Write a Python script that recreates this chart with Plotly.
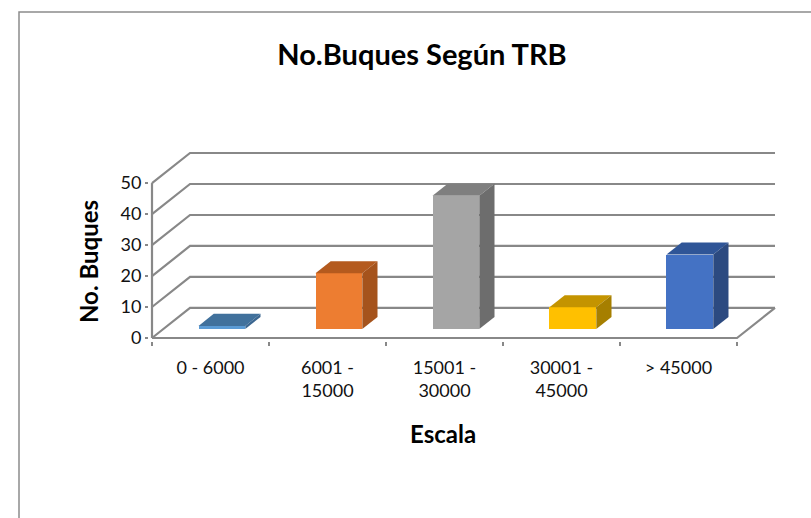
import plotly.graph_objects as go

# ---- data ----
categories = ["0 - 6000", "6001 -<br>15000", "15001 -<br>30000", "30001 -<br>45000", "> 45000"]
values = [1, 18, 43, 7, 24]
y_ticks = [0, 10, 20, 30, 40, 50]

front_colors = ["#5b9bd5", "#ed7d31", "#a5a5a5", "#ffc000", "#4472c4"]
top_colors = ["#41719c", "#b45a1e", "#7f7f7f", "#c49400", "#2f5597"]
side_colors = ["#3b6690", "#a5531c", "#6d6d6d", "#a67f00", "#2c4a80"]

# ---- 3D geometry (in axis units) ----
DX = 0.325   # depth offset along x (category units)
DY = 9.7     # depth offset along y (value units)
F0, F1 = 0.3, 0.7   # bar front / back depth fractions
BW = 0.4     # bar width
GRID = "#888888"
TXT = "#111111"

W, H = 811, 518
n = len(categories)
ymax = y_ticks[-1] + DY
# pixel frame of the front/back planes
PX0, PX1 = 152, 775
PY0, PY1 = 338, 153
ppx = (PX1 - PX0) / (n + DX)
ppy = (PY0 - PY1) / ymax
EX, EY = 3 / ppx, 3 / ppy   # small padding so edge lines are not clipped
L = PX0 - 3
R = W - PX1 - 3
T = PY1 - 3
B = H - PY0 - 3

fig = go.Figure()

shapes = []
# walls / gridlines (drawn below the bars)
for v in y_ticks:
    shapes.append(dict(type="path", xref="x", yref="y", layer="below",
                       path=f"M 0 {v} L {DX} {v + DY} L {n + DX} {v + DY}",
                       line=dict(color=GRID, width=2.2)))
# floor front + right edge, vertical axis
shapes.append(dict(type="path", xref="x", yref="y", layer="below",
                   path=f"M 0 0 L {n} 0 L {n + DX} {DY}", line=dict(color=GRID, width=2.2)))
shapes.append(dict(type="line", xref="x", yref="y", layer="below",
                   x0=0, y0=0, x1=0, y1=y_ticks[-1], line=dict(color=GRID, width=2.2)))

# bars: front faces
centers = [i + 0.5 + F0 * DX for i in range(n)]
yb = F0 * DY
fig.add_trace(go.Bar(x=centers, y=values, base=yb, width=BW,
                     marker=dict(color=front_colors, line=dict(width=0)),
                     showlegend=False, hoverinfo="skip"))

d = (F1 - F0) * DX
dy = (F1 - F0) * DY
for i, v in enumerate(values):
    x0 = centers[i] - BW / 2
    x1 = centers[i] + BW / 2
    yt = yb + v
    # top face
    fig.add_trace(go.Scatter(x=[x0, x1, x1 + d, x0 + d, x0], y=[yt, yt, yt + dy, yt + dy, yt],
                             fill="toself", fillcolor=top_colors[i], mode="lines",
                             line=dict(width=0), hoverinfo="skip", showlegend=False))
    # side face
    fig.add_trace(go.Scatter(x=[x1, x1, x1 + d, x1 + d, x1], y=[yb, yt, yt + dy, yb + dy, yb],
                             fill="toself", fillcolor=side_colors[i], mode="lines",
                             line=dict(width=0), hoverinfo="skip", showlegend=False))

ph = H - T - B
pw = W - L - R


def px_to_paper_x(px):
    return (px - L) / pw


def px_to_paper_y(py):
    return (H - B - py) / ph


# chart border
shapes.append(dict(type="rect", xref="paper", yref="paper",
                   x0=px_to_paper_x(19), x1=px_to_paper_x(830),
                   y0=px_to_paper_y(540), y1=px_to_paper_y(12),
                   line=dict(color="#8c8c8c", width=1.5), fillcolor="rgba(0,0,0,0)", layer="below"))

fig.update_layout(
    width=W, height=H,
    margin=dict(l=L, r=R, t=T, b=B, autoexpand=False),
    paper_bgcolor="white", plot_bgcolor="white",
    font=dict(family="Lato", color=TXT),
    title=dict(text="<b>No.Buques Según TRB</b>", x=px_to_paper_x(422), xref="paper",
               xanchor="center", y=1 - 55 / H, yanchor="middle", automargin=False,
               font=dict(size=29, color="#000000", family="Lato")),
    xaxis=dict(range=[-EX, n + DX + EX], tickmode="array", tickvals=[i + 0.5 for i in range(n)],
               ticktext=categories, ticks="", showgrid=False, zeroline=False, showline=False,
               automargin=False, tickfont=dict(size=18, color=TXT), ticklabelstandoff=14,
               minor=dict(tickmode="array", tickvals=list(range(n + 1)), ticks="outside",
                          ticklen=4, tickwidth=1.5, tickcolor=GRID, showgrid=False)),
    yaxis=dict(range=[-EY, ymax + EY], tickmode="array", tickvals=y_ticks, ticks="outside",
               ticklen=3, tickwidth=1.5, tickcolor=GRID, showgrid=False, zeroline=False,
               showline=False, automargin=False, tickfont=dict(size=18, color=TXT)),
    bargap=0,
    shapes=shapes,
    annotations=[
        dict(text="<b>No. Buques</b>", xref="paper", yref="paper",
             x=px_to_paper_x(88), y=px_to_paper_y(262), textangle=-90,
             showarrow=False, font=dict(size=24, color="#000000", family="Lato"),
             xanchor="center", yanchor="middle"),
        dict(text="<b>Escala</b>", xref="paper", yref="paper",
             x=px_to_paper_x(443), y=px_to_paper_y(433),
             showarrow=False, font=dict(size=24, color="#000000", family="Lato"),
             xanchor="center", yanchor="middle"),
    ],
)

fig.write_html("out.html", config={"displayModeBar": False},
               post_script="document.body.style.margin='0';document.body.style.overflow='hidden';")
